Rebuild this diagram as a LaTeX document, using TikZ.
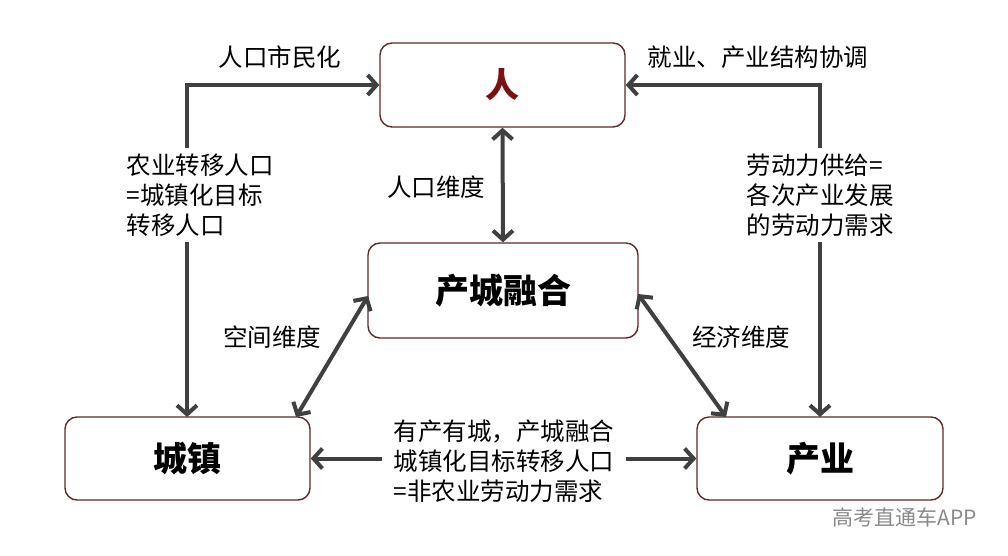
\documentclass[tikz,border=0pt]{standalone}
\usepackage{fontspec}
\setmainfont{Noto Sans CJK SC}
\usetikzlibrary{arrows.meta}
\definecolor{linec}{HTML}{404040}
\definecolor{boxc}{HTML}{5E2A2A}
\definecolor{renc}{HTML}{7A1212}
\definecolor{wmc}{HTML}{8A8A8A}
\tikzset{
  box/.style={draw=boxc, line width=1.4pt, rounded corners=12pt, fill=white, inner sep=0pt,
    font=\fontsize{34}{40}\selectfont\bfseries},
  conn/.style={draw=linec, line width=4pt, {Straight Barb[length=9pt,width=20pt]}-{Straight Barb[length=9pt,width=20pt]}},
  lbl/.style={font=\fontsize{24.5}{30}\selectfont, inner sep=2pt},
  mlbl/.style={lbl, fill=white, align=left, inner sep=6pt},
}
\begin{document}
\begin{tikzpicture}[x=1pt,y=-1pt]
\useasboundingbox (0,0) rectangle (1008,556);
% boxes
\node[box, minimum width=245pt, minimum height=84pt, text=renc] (ren) at (502.5,85) {人};
\node[box, minimum width=270pt, minimum height=95pt] (ronghe) at (503,290.5) {产城融合};
\node[box, minimum width=245pt, minimum height=83pt] (chengzhen) at (187.5,458.5) {城镇};
\node[box, minimum width=246pt, minimum height=83pt] (chanye) at (820,458.5) {产业};
% coordinates for diagonal ends
\coordinate (rhL) at (368,296);
\coordinate (rhR) at (638,294);
\coordinate (czT) at (296,417);
\coordinate (cyT) at (726,417);
\coordinate (czN) at (187,417);
\coordinate (cyN) at (820,417);
% connectors
\draw[conn] (czN) |- (ren.west);
\draw[conn] (cyN) |- (ren.east);
\draw[conn] (ren.south) -- (ronghe.north);
\draw[conn] (rhL) -- (czT);
\draw[conn] (rhR) -- (cyT);
\draw[conn] (chengzhen.east) -- (chanye.west);
% labels
\node[lbl] (l1) at (280,57) {人口市民化};
\node[lbl] (l2) at (758,57) {就业、产业结构协调};
\node[mlbl] (l3) at (200,195) {农业转移人口\\=城镇化目标\\转移人口};
\node[mlbl] (l4) at (820,195) {劳动力供给=\\各次产业发展\\的劳动力需求};
\node[lbl] (l5) at (436,187) {人口维度};
\node[lbl] (l6) at (272,337) {空间维度};
\node[lbl] (l7) at (741,337) {经济维度};
\node[mlbl, inner xsep=12pt] (l8) at (504,461) {有产有城，产城融合\\城镇化目标转移人口\\=非农业劳动力需求};
\node[font=\fontsize{21}{24}\selectfont, text=wmc] (wm) at (905,517) {高考直通车APP};
\end{tikzpicture}
\end{document}
